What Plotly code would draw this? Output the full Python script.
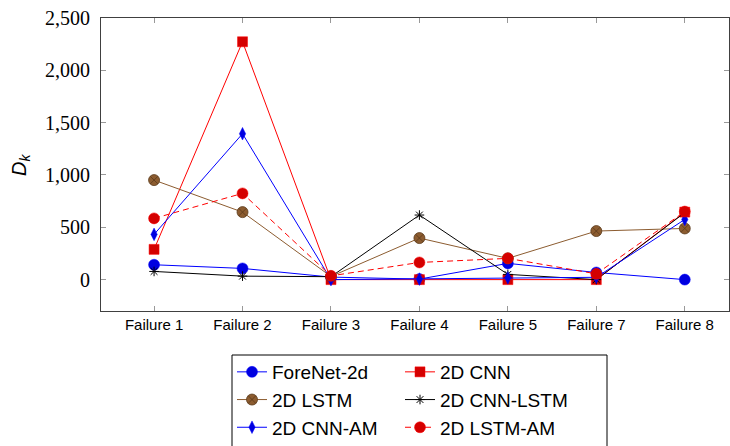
import plotly.graph_objects as go

categories = ["Failure 1", "Failure 2", "Failure 3", "Failure 4", "Failure 5", "Failure 7", "Failure 8"]
forenet_2d = [142, 107, 24, 5, 155, 68, 0]
cnn_2d = [289, 2273, 0, 0, 0, 0, 645]
lstm_2d = [951, 645, 30, 397, 203, 464, 489]
cnn_lstm_2d = [78, 33, 28, 617, 50, 0, 640]
cnn_am_2d = [432, 1394, 0, 5, 17, 22, 575]
lstm_am_2d = [585, 824, 36, 164, 203, 55, 650]
y_ticks = [0, 500, 1000, 1500, 2000, 2500]

xpos = list(range(len(categories)))
BROWN = "#8C5C30"

series = [
    dict(name="ForeNet-2d", y=forenet_2d, color="#0000FF", dash="solid", legend="legend",
         marker=dict(symbol="circle", size=11, color="#0000E0", line=dict(color="#0000FF", width=0.5))),
    dict(name="2D CNN", y=cnn_2d, color="#FF0000", dash="solid", legend="legend2",
         marker=dict(symbol="square", size=10, color="#D40000", line=dict(color="#FF0000", width=0.5))),
    dict(name="2D LSTM", y=lstm_2d, color=BROWN, dash="solid", legend="legend",
         marker=dict(symbol="circle-x", size=11, color=BROWN, line=dict(color="#5A3A1A", width=0.8))),
    dict(name="2D CNN-LSTM", y=cnn_lstm_2d, color="#000000", dash="solid", legend="legend2",
         marker=dict(symbol="asterisk-open", size=8, color="#000000", line=dict(color="#000000", width=1))),
    dict(name="2D CNN-AM", y=cnn_am_2d, color="#0000FF", dash="solid", legend="legend",
         marker=dict(symbol="diamond-tall", size=9, color="#0000E0", line=dict(color="#0000FF", width=0.5))),
    dict(name="2D LSTM-AM", y=lstm_am_2d, color="#FF0000", dash="6px,4px", legend="legend2",
         marker=dict(symbol="circle", size=11, color="#D40000", line=dict(color="#FF0000", width=0.5))),
]

fig = go.Figure()
for s in series:
    fig.add_trace(go.Scatter(
        x=xpos, y=s["y"], name=s["name"], mode="lines+markers",
        line=dict(color=s["color"], width=1, dash=s["dash"]),
        marker=s["marker"], legend=s["legend"],
    ))

W, H = 730, 446
ml, mr, mt, mb = 101, 1, 18, 135
pw, ph = W - ml - mr, H - mt - mb


def px_x(x):
    return (x - ml) / pw


def px_y(y):
    return (mt + ph - y) / ph


legend_font = dict(family="Liberation Sans", size=19, color="#000000")
common_legend = dict(
    orientation="v", yanchor="top", xanchor="left",
    bgcolor="rgba(0,0,0,0)", borderwidth=0,
    font=legend_font, tracegroupgap=0, itemsizing="trace",
)

fig.update_layout(
    width=W, height=H,
    font=dict(family="Liberation Sans", color="#000000"),
    margin=dict(l=ml, r=mr, t=mt, b=mb, pad=0, autoexpand=False),
    paper_bgcolor="white", plot_bgcolor="white",
    showlegend=True,
    legend=dict(common_legend, x=px_x(232), y=px_y(353)),
    legend2=dict(common_legend, x=px_x(400), y=px_y(353)),
    xaxis=dict(
        range=[-0.6, 6.5],
        tickmode="array", tickvals=xpos, ticktext=categories,
        ticks="inside", ticklen=5, tickcolor="#999999", tickwidth=1,
        showline=True, linecolor="#404040", linewidth=1, mirror="ticks",
        showgrid=False, zeroline=False,
        tickfont=dict(family="Liberation Sans", size=15, color="#000000"),
    ),
    yaxis=dict(
        range=[-300, 2500],
        tickmode="array", tickvals=y_ticks, tickformat=",",
        ticks="inside", ticklen=5, tickcolor="#999999", tickwidth=1,
        showline=True, linecolor="#404040", linewidth=1, mirror="ticks",
        showgrid=False, zeroline=False,
        tickfont=dict(family="'Liberation Serif', 'DejaVu Serif', serif", size=20, color="#000000"),
        ticklabelstandoff=6,
    ),
    shapes=[dict(
        type="rect", xref="paper", yref="paper",
        x0=px_x(232), x1=px_x(607), y0=px_y(460), y1=px_y(355),
        line=dict(color="#000000", width=1), fillcolor="rgba(0,0,0,0)", layer="above",
    )],
    annotations=[dict(
        text="<i>D<sub>k</sub></i>", xref="paper", yref="paper",
        x=px_x(20), y=px_y(165), xanchor="center", yanchor="middle",
        textangle=-90, showarrow=False,
        font=dict(family="Liberation Sans", size=20, color="#000000"),
    )],
)

fig.write_html("out.html")
